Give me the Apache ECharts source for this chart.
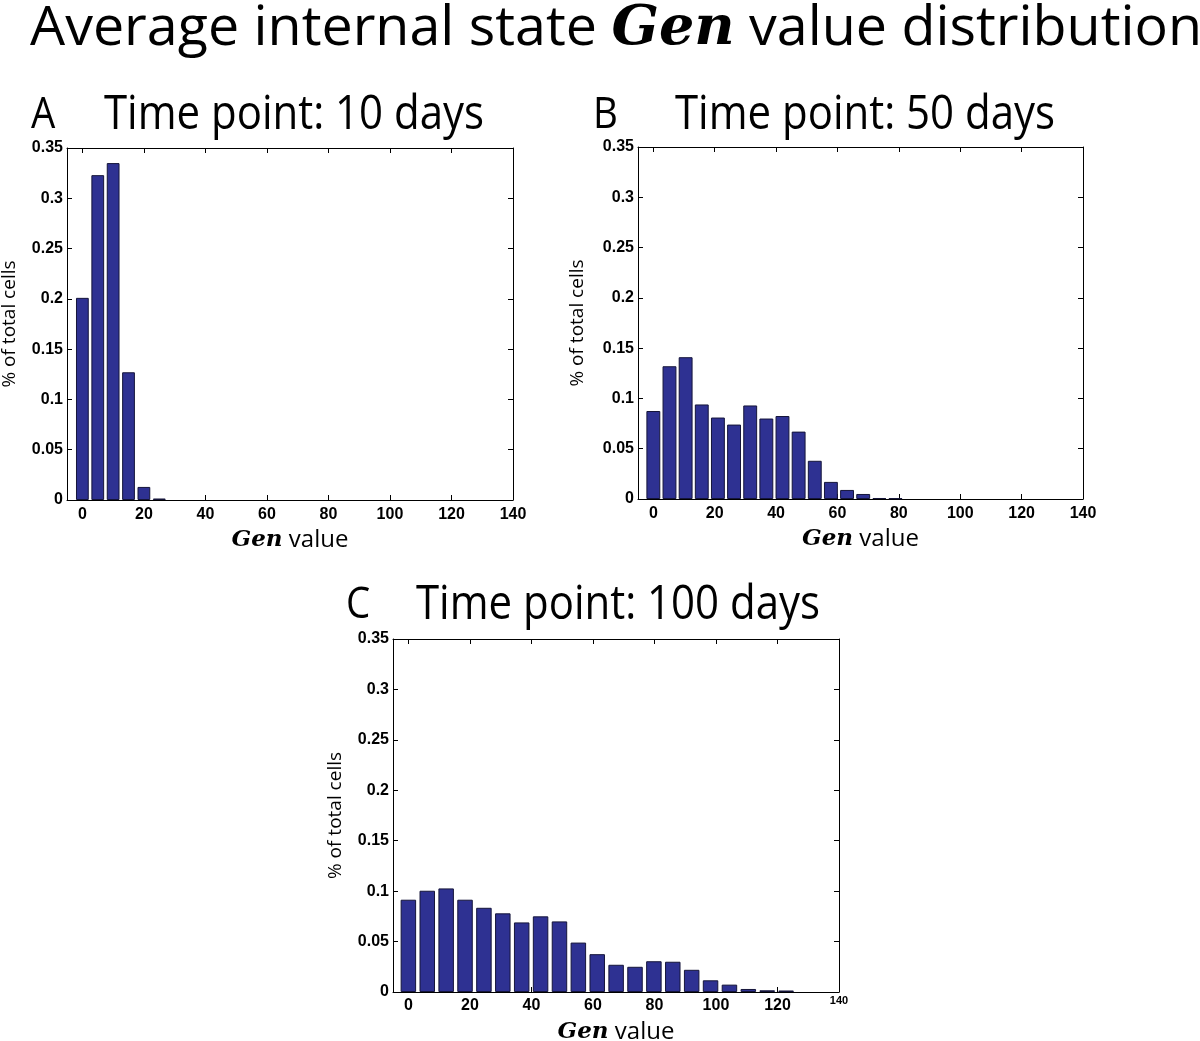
<!DOCTYPE html>
<html><head><meta charset="utf-8">
<script src="https://cdn.jsdelivr.net/npm/echarts@6/dist/echarts.min.js"></script>
<style>html,body{margin:0;padding:0;background:#fff}#c{width:1200px;height:1041px}</style>
</head><body><div id="c"></div>
<script>
// ---- data ----
const xTickValues = [0, 20, 40, 60, 80, 100, 120, 140];
const yTickValues = [0, 0.05, 0.1, 0.15, 0.2, 0.25, 0.3, 0.35];

const binsA = [0, 5, 10, 15, 20, 25];
const valuesA = [0.201, 0.323, 0.335, 0.127, 0.013, 0.0015];

const binsB = [0, 5.26, 10.52, 15.78, 21.04, 26.3, 31.56, 36.82, 42.08, 47.34, 52.6, 57.86, 63.12, 68.38, 73.64, 78.9];
const valuesB = [0.0875, 0.132, 0.141, 0.094, 0.081, 0.074, 0.093, 0.080, 0.0825, 0.067, 0.038, 0.017, 0.009, 0.005, 0.001, 0.0007];

const binsC = [0, 6.14, 12.28, 18.42, 24.56, 30.7, 36.84, 42.98, 49.12, 55.26, 61.4, 67.54, 73.68, 79.82, 85.96, 92.1, 98.24, 104.38, 110.52, 116.66, 122.8];
const valuesC = [0.0915, 0.1004, 0.1027, 0.0915, 0.0835, 0.078, 0.069, 0.075, 0.070, 0.049, 0.0375, 0.027, 0.025, 0.0305, 0.030, 0.022, 0.0116, 0.0073, 0.003, 0.0017, 0.0015];

const mainTitleParts = ['Average internal state ', 'Gen', ' value distribution'];
const panelLetters = ['A', 'B', 'C'];
const panelTitles = ['Time point: 10 days', 'Time point: 50 days', 'Time point: 100 days'];
const yAxisTitle = '% of total cells';
const xAxisTitleParts = ['Gen', ' value'];

// ---- layout / style ----
const SANS = '"Open Sans", "Noto Sans", sans-serif';
const SERIF = '"DejaVu Serif", serif';
const TICKFONT = '"Liberation Sans", Arial, sans-serif';
const BAR = '#2e3192';

const panels = [
  {bins: binsA, values: valuesA, left: 67, top: 148, width: 446, height: 352, barWidth: '83%', smallMax: false, yGap: 48,
   letterX: 31, titleX: 104, titleW: 380, titleY: 115},
  {bins: binsB, values: valuesB, left: 638, top: 147, width: 445, height: 352, barWidth: '86%', smallMax: false, yGap: 51,
   letterX: 593, titleX: 675, titleW: 380, titleY: 115},
  {bins: binsC, values: valuesC, left: 393, top: 639, width: 446, height: 353, barWidth: '82%', smallMax: true, yGap: 48,
   letterX: 346, titleX: 416, titleW: 404, titleY: 605}
];

const ctx = document.createElement('canvas').getContext('2d');
function textW(str, font) { ctx.font = font; return ctx.measureText(str).width; }

const chart = echarts.init(document.getElementById('c'), null, {renderer: 'canvas'});

const grid = [], xAxis = [], yAxis = [], series = [], graphic = [];

panels.forEach((p, i) => {
  grid.push({left: p.left, top: p.top, width: p.width, height: p.height, containLabel: false, outerBoundsMode: 'none'});
  const lineStyle = {color: '#000', width: 1};
  xAxis.push({
    type: 'value', gridIndex: i, min: -5, max: 140, position: 'bottom',
    splitLine: {show: false},
    axisLine: {show: true, onZero: false, lineStyle},
    axisTick: {show: true, inside: true, length: 5, customValues: xTickValues, lineStyle},
    axisLabel: {
      customValues: xTickValues, color: '#000', fontFamily: TICKFONT, fontWeight: 'bold', fontSize: 16,
      margin: p.smallMax ? 14 : 7,
      verticalAlign: p.smallMax ? 'middle' : 'top',
      formatter: v => (p.smallMax && v === 140) ? '{s|140}' : String(v),
      rich: {s: {fontSize: 11, fontWeight: 'bold', fontFamily: TICKFONT, color: '#000', padding: [0, 0, 10, 0]}}
    },
    name: '{g|' + xAxisTitleParts[0] + '}' + xAxisTitleParts[1], nameLocation: 'middle', nameGap: 28,
    nameTextStyle: {color: '#000', fontFamily: SANS, fontSize: 24,
      rich: {g: {fontFamily: SERIF, fontWeight: 'bold', fontStyle: 'italic', fontSize: 23, color: '#000'}}}
  });
  xAxis.push({
    type: 'value', gridIndex: i, min: -5, max: 140, position: 'top',
    splitLine: {show: false},
    axisLine: {show: true, onZero: false, lineStyle},
    axisTick: {show: true, inside: true, length: 5, customValues: xTickValues, lineStyle},
    axisLabel: {show: false}
  });
  yAxis.push({
    type: 'value', gridIndex: i, min: 0, max: 0.35, interval: 0.05, position: 'left',
    splitLine: {show: false},
    axisLine: {show: true, onZero: false, lineStyle},
    axisTick: {show: true, inside: true, length: 5, lineStyle},
    axisLabel: {color: '#000', fontFamily: TICKFONT, fontWeight: 'bold', fontSize: 16, margin: 4,
      formatter: v => String(parseFloat(v.toFixed(2)))},
    name: yAxisTitle, nameLocation: 'middle', nameGap: p.yGap, nameRotate: 90,
    nameTextStyle: {color: '#000', fontFamily: SANS, fontSize: 19}
  });
  yAxis.push({
    type: 'value', gridIndex: i, min: 0, max: 0.35, interval: 0.05, position: 'right',
    splitLine: {show: false},
    axisLine: {show: true, onZero: false, lineStyle},
    axisTick: {show: true, inside: true, length: 5, lineStyle},
    axisLabel: {show: false}
  });
  series.push({
    type: 'bar', xAxisIndex: 2 * i, yAxisIndex: 2 * i,
    data: p.bins.map((b, j) => [b, p.values[j]]),
    barWidth: p.barWidth,
    itemStyle: {color: BAR, borderColor: '#15153a', borderWidth: 1},
    animation: false
  });

  // panel titles
  const tFont = '48px ' + SANS;
  const sx = p.titleW / textW(panelTitles[i], tFont);
  graphic.push({type: 'text', x: p.letterX, y: p.titleY, scaleX: sx,
    style: {text: panelLetters[i], fontFamily: SANS, fontSize: 44, fill: '#000', verticalAlign: 'middle', align: 'left'}});
  graphic.push({type: 'text', x: p.titleX, y: p.titleY, scaleX: sx,
    style: {text: panelTitles[i], fontFamily: SANS, fontSize: 48, fill: '#000', verticalAlign: 'middle', align: 'left'}});
});

// main title
const mSize = 54;
const mW = textW(mainTitleParts[0] + mainTitleParts[2], mSize + 'px ' + SANS) +
           textW(mainTitleParts[1], 'italic bold ' + mSize + 'px ' + SERIF);
const mSx = 1172 / mW;
graphic.push({type: 'text', x: 30, y: 30, scaleX: mSx,
  style: {
    text: mainTitleParts[0] + '{g|' + mainTitleParts[1] + '}' + mainTitleParts[2],
    fontFamily: SANS, fontSize: mSize, fill: '#000', verticalAlign: 'middle', align: 'left',
    rich: {g: {fontFamily: SERIF, fontWeight: 'bold', fontStyle: 'italic', fontSize: mSize, fill: '#000'}}
  }});

chart.setOption({animation: false, backgroundColor: '#fff', grid, xAxis, yAxis, series, graphic});
</script></body></html>
